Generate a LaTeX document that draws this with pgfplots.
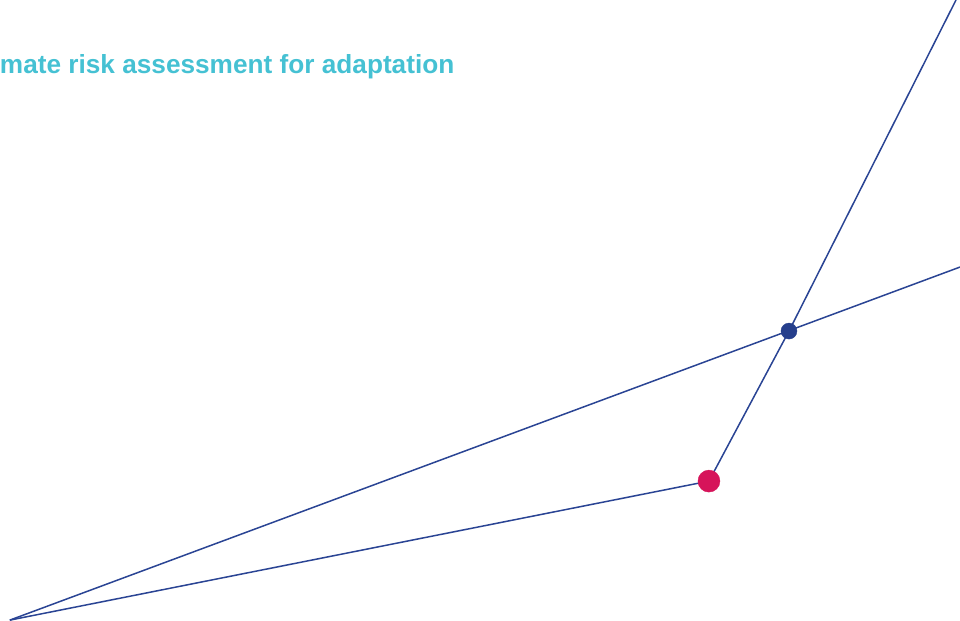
\documentclass[border=0pt]{standalone}
\usepackage{pgfplots}
\pgfplotsset{compat=1.18}
\usepackage{fontspec}
\setmainfont{Liberation Sans}
\definecolor{lineblue}{HTML}{2A4494}
\definecolor{dotblue}{HTML}{263F8C}
\definecolor{dotpink}{HTML}{D6145A}
\definecolor{titlecyan}{HTML}{45C1D3}
\begin{document}
\begin{tikzpicture}
\begin{axis}[scale only axis, width=960pt, height=625pt,
  xmin=0, xmax=960, ymin=0, ymax=625, hide axis, clip=true]
% two straight rays from the common origin
\addplot[lineblue, line width=1.5pt] coordinates {(10,5) (960,358)};
\addplot[lineblue, line width=1.5pt] coordinates {(10,5) (709,144) (789,294) (956,625)};
\addplot[only marks, mark=*, mark size=11pt, dotpink, draw=none] coordinates {(709,144)};
\addplot[only marks, mark=*, mark size=8pt, dotblue, draw=none] coordinates {(789,294)};
\node[anchor=base west, inner sep=0pt, text=titlecyan, font=\fontsize{26.2}{30}\selectfont\bfseries] at (axis cs:0,552) {mate risk assessment for adaptation};
\end{axis}
\end{tikzpicture}
\end{document}
